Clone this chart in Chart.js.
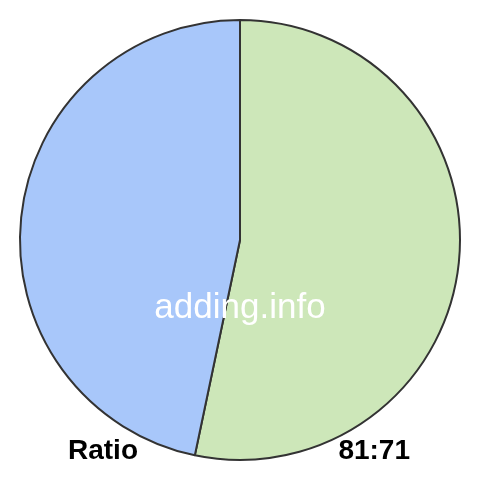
<!DOCTYPE html>
<html>
<head>
<meta charset="UTF-8">
<title>Ratio 81:71</title>
<script src="https://cdn.jsdelivr.net/npm/chart.js"></script>
<style>
    html, body { margin: 0; padding: 0; background: #fff; }
    .wrap { width: 480px; height: 480px; position: relative; }
    canvas { width: 480px !important; height: 480px !important; }
</style>
</head>
<body>
<div class="wrap"><canvas id="pie"></canvas></div>
<script>
const labels = ["81", "71"];
const values = [81, 71];
const colors = ["#cde7b9", "#a8c7fa"];

// text drawn on top of the pie
const overlayText = {
    id: "overlayText",
    afterDraw(chart) {
        const ctx = chart.ctx;
        ctx.save();
        ctx.textBaseline = "middle";
        ctx.textAlign = "center";
        ctx.fillStyle = "#ffffff";
        ctx.font = "35px 'Liberation Sans', Arial, sans-serif";
        ctx.fillText("adding.info", 240, 308);
        ctx.fillStyle = "#000000";
        ctx.font = "bold 28px 'Liberation Sans', Arial, sans-serif";
        ctx.textAlign = "left";
        ctx.fillText("Ratio", 68, 451);
        ctx.textAlign = "right";
        ctx.fillText(values.join(":"), 410, 451);
        ctx.restore();
    }
};

new Chart(document.getElementById("pie"), {
    type: "pie",
    data: {
        labels: labels,
        datasets: [{
            data: values,
            backgroundColor: colors,
            borderColor: "#333333",
            borderWidth: 2
        }]
    },
    options: {
        responsive: false,
        animation: false,
        layout: { padding: 19 },
        plugins: {
            legend: { display: false },
            tooltip: { enabled: false }
        }
    },
    plugins: [overlayText]
});
</script>
</body>
</html>
